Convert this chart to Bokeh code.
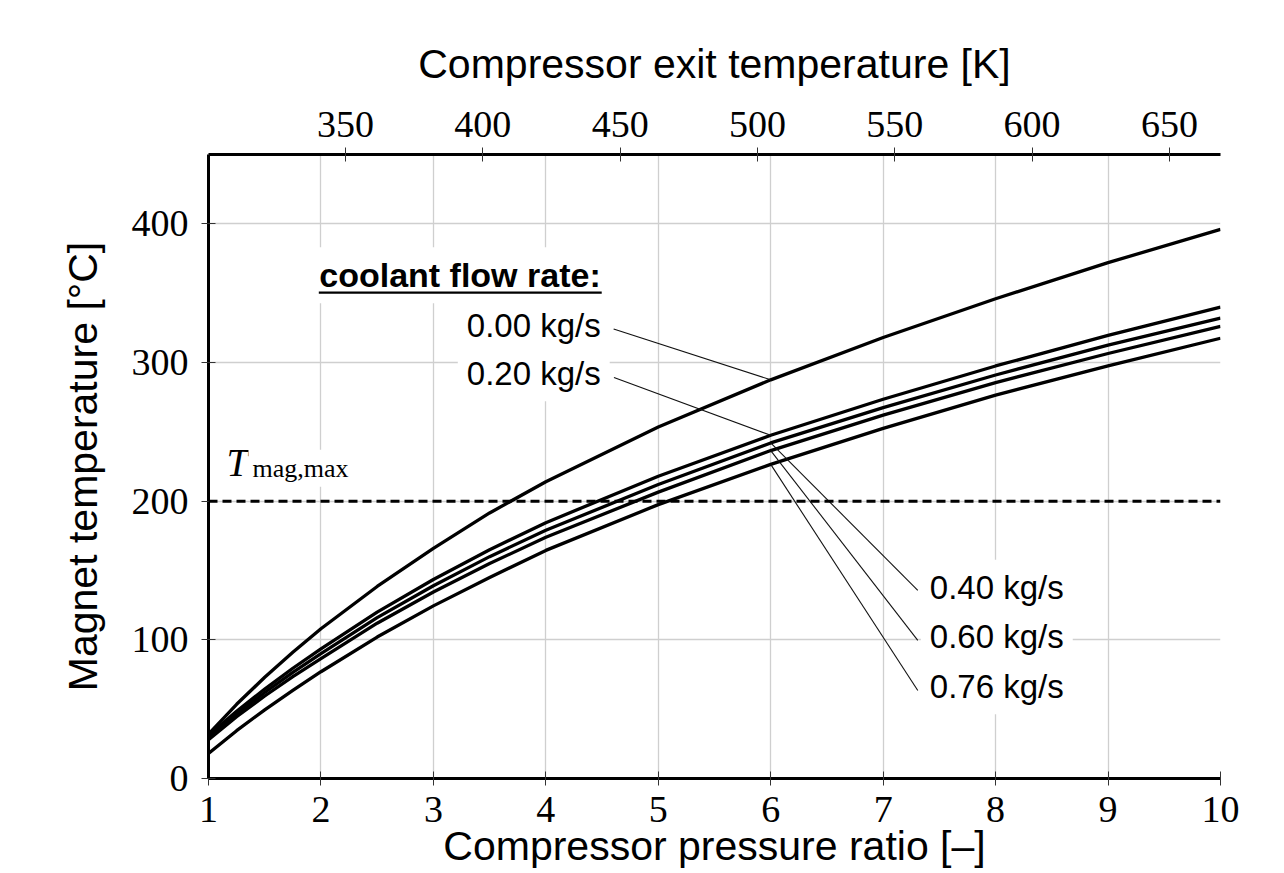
from bokeh.plotting import figure
from bokeh.models import Range1d, LinearAxis, FixedTicker, Label, Span, Arrow
from bokeh.embed import file_html
from bokeh.resources import INLINE

# ---------------- data ----------------
pressure_ratio = [1, 1.25, 1.5, 1.75, 2, 2.5, 3, 3.5, 4, 5, 6, 7, 8, 9, 10]
flow_labels = ["0.00 kg/s", "0.20 kg/s", "0.40 kg/s", "0.60 kg/s", "0.76 kg/s"]
t_mag_000 = [32, 53.5, 73, 91, 108, 138.5, 166, 191.5, 214, 253.5, 287.5, 318, 346, 372, 396]
t_mag_020 = [31, 48.5, 64.5, 79.5, 93.5, 120, 143.5, 165, 184.5, 218, 247.5, 273.5, 297.5, 319.5, 340]
t_mag_040 = [29.5, 46.5, 62, 76.5, 90, 116, 139, 160, 179, 212, 242, 267.5, 291, 312.5, 332]
t_mag_060 = [28, 44.5, 59.5, 73.5, 86.5, 112, 134.5, 155, 174, 206.5, 236.5, 262, 285.5, 306.5, 326]
t_mag_076 = [18, 34.5, 49.5, 63.5, 77, 102, 124.5, 145, 164.5, 197.5, 226.5, 252.5, 276.5, 297.5, 317.5]
curves = [t_mag_000, t_mag_020, t_mag_040, t_mag_060, t_mag_076]

T_MAG_MAX = 200
x_ticks = [1, 2, 3, 4, 5, 6, 7, 8, 9, 10]
y_ticks = [0, 100, 200, 300, 400]
top_ticks = [350, 400, 450, 500, 550, 600, 650]
top_range = (300.12, 668.6)

# ---------------- annotation layout (data coordinates) ----------------
leader_curve_x = 6
upper_label_right = 4.488
lower_label_left = 7.415
label_baselines = [317.5, 282.5, 128.5, 92.9, 56.8]
leader_far_x = [4.603, 4.606, 7.308, 7.308, 7.308]
leader_far_y = [324.2, 289.2, 135.7, 99.6, 63.5]

SANS = "Liberation Sans"
SERIF = "Liberation Serif"
PAD = 9
BASE_SHIFT = 13  # compensates the box anchoring of padded labels

p = figure(width=1276, height=873, x_range=Range1d(1, 10), y_range=Range1d(0, 450),
           output_backend="svg", toolbar_location=None, title=None,
           min_border_left=208, min_border_right=56, min_border_top=154, min_border_bottom=95)
p.extra_x_ranges = {"texit": Range1d(*top_range)}
p.outline_line_color = None
p.background_fill_color = "white"
p.border_fill_color = "white"

top_axis = LinearAxis(x_range_name="texit", ticker=FixedTicker(ticks=top_ticks),
                      axis_label="Compressor exit temperature [K]")
p.add_layout(top_axis, "above")

bottom_axis = p.below[0]
left_axis = p.left[0]
bottom_axis.ticker = FixedTicker(ticks=x_ticks)
bottom_axis.axis_label = "Compressor pressure ratio [–]"
left_axis.ticker = FixedTicker(ticks=y_ticks)
left_axis.axis_label = "Magnet temperature [°C]"


def style_axis(ax, standoff, label_standoff):
    ax.axis_line_color = "black"
    ax.axis_line_width = 3
    ax.major_tick_in = 7
    ax.major_tick_out = 7
    ax.major_tick_line_color = "#333333"
    ax.major_tick_line_width = 1
    ax.minor_tick_line_color = None
    ax.major_label_text_font = SERIF
    ax.major_label_text_font_size = "38px"
    ax.major_label_text_color = "black"
    ax.major_label_standoff = standoff
    ax.axis_label_text_font = SANS
    ax.axis_label_text_font_size = "41px"
    ax.axis_label_text_font_style = "normal"
    ax.axis_label_text_color = "black"
    ax.axis_label_standoff = label_standoff


style_axis(bottom_axis, 11, -2)
style_axis(left_axis, 13, 23)
style_axis(top_axis, 11, 22)
left_axis.major_label_orientation = "horizontal"

for g in (p.xgrid[0], p.ygrid[0]):
    g.grid_line_color = "#cfcfcf"
    g.grid_line_width = 1.3
p.xgrid[0].ticker = FixedTicker(ticks=x_ticks)
p.ygrid[0].ticker = FixedTicker(ticks=y_ticks)

# threshold line
p.add_layout(Span(location=T_MAG_MAX, dimension="width", line_color="black",
                  line_width=3, line_dash="9 5"))

# curves
for ys in curves:
    p.line(pressure_ratio, ys, line_color="black", line_width=3.3, line_join="round")

# leader lines
idx = pressure_ratio.index(leader_curve_x)
x0 = [leader_curve_x] * len(curves)
y0 = [c[idx] for c in curves]
p.segment(x0=x0, y0=y0, x1=leader_far_x, y1=leader_far_y, line_color="#111111", line_width=1.1)

# flow labels
for i, txt in enumerate(flow_labels):
    if i < 2:
        lab = Label(x=upper_label_right, y=label_baselines[i], text=txt, text_align="right",
                    x_offset=PAD)
    else:
        lab = Label(x=lower_label_left, y=label_baselines[i], text=txt, text_align="left",
                    x_offset=-PAD)
    lab.y_offset = BASE_SHIFT
    lab.text_baseline = "alphabetic"
    lab.text_font = SANS
    lab.text_font_size = "33px"
    lab.text_color = "black"
    lab.background_fill_color = "white"
    lab.padding = PAD
    p.add_layout(lab)

header = Label(x=upper_label_right, y=353.6, text="coolant flow rate:", text_align="right",
               x_offset=PAD, y_offset=BASE_SHIFT,
               text_baseline="alphabetic", text_font=SANS, text_font_size="34px",
               text_font_style="bold", text_color="black", background_fill_color="white",
               padding=PAD)
p.add_layout(header)
p.add_layout(Arrow(x_start=1.981, y_start=350.4, x_end=4.497, y_end=350.4, end=None,
                   line_color="black", line_width=2.2))

# T_mag,max label
t_main = Label(x=1.107, y=218.8, text="T", text_font=SERIF, text_font_style="italic",
               text_font_size="39px", text_baseline="alphabetic", text_color="black",
               x_offset=2, y_offset=BASE_SHIFT,
               background_fill_color="white", padding=4)
t_sub = Label(x=1.391, y=214.4, text="mag,max", text_font=SERIF, text_font_size="26px",
              text_baseline="alphabetic", text_color="black",
              x_offset=-4, y_offset=BASE_SHIFT,
              background_fill_color="white", padding=4)
p.add_layout(t_main)
p.add_layout(t_sub)

open("out.html", "w").write(file_html(p, INLINE))
